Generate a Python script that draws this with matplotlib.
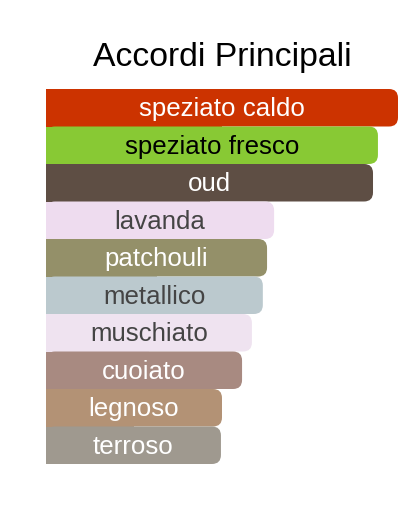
import matplotlib
matplotlib.use('Agg')
import matplotlib.pyplot as plt
from matplotlib import patches

# accords, relative strength (0-100), bar colours and text colours
accords = ['speziato caldo', 'speziato fresco', 'oud', 'lavanda', 'patchouli',
           'metallico', 'muschiato', 'cuoiato', 'legnoso', 'terroso']
values = [100, 94.3, 92.9, 64.8, 62.8, 61.6, 58.5, 55.7, 50.0, 49.7]
bar_colors = ['#cc3300', '#88c934', '#5e4e44', '#eedcef', '#949069',
              '#bbc9ce', '#efe3f0', '#a88a81', '#b39275', '#9f998f']
text_colors = ['white', 'black', 'white', '#444444', 'white',
               '#444444', '#444444', 'white', 'white', 'white']

W, H = 416, 508
fig = plt.figure(figsize=(W / 100, H / 100), dpi=100)
fig.patch.set_facecolor('white')

# axes covers the bar area only (pixels 46..398 horizontally, 89..464 vertically)
ax = fig.add_axes([46 / W, 44 / H, 352 / W, 375 / H])
ax.set_xlim(0, 100)
ax.set_ylim(len(accords) - 0.5, -0.5)
ax.axis('off')

# corner radius ~9 px, expressed in data units on each axis
rx = 9 / 3.52
ry = 9 / 37.5

for i, (name, v) in enumerate(zip(accords, values)):
    col = bar_colors[i]
    rounded = patches.FancyBboxPatch(
        (0, i - 0.5), v, 1.0,
        boxstyle=f'round,pad=0,rounding_size={rx}',
        mutation_aspect=ry / rx,
        facecolor=col, edgecolor='none', linewidth=0)
    ax.add_patch(rounded)
    # square off the left end
    ax.add_patch(patches.Rectangle((0, i - 0.5), v / 2, 1.0,
                                   facecolor=col, edgecolor='none', linewidth=0))
    ax.text(v / 2, i + 0.232, name, ha='center', va='baseline',
            fontsize=18.6, color=text_colors[i], family='Liberation Sans')

fig.text(222 / W, (H - 66) / H, 'Accordi Principali', ha='center', va='baseline',
         fontsize=24.3, color='black', family='Liberation Sans')

fig.savefig('out.png', dpi=100)
